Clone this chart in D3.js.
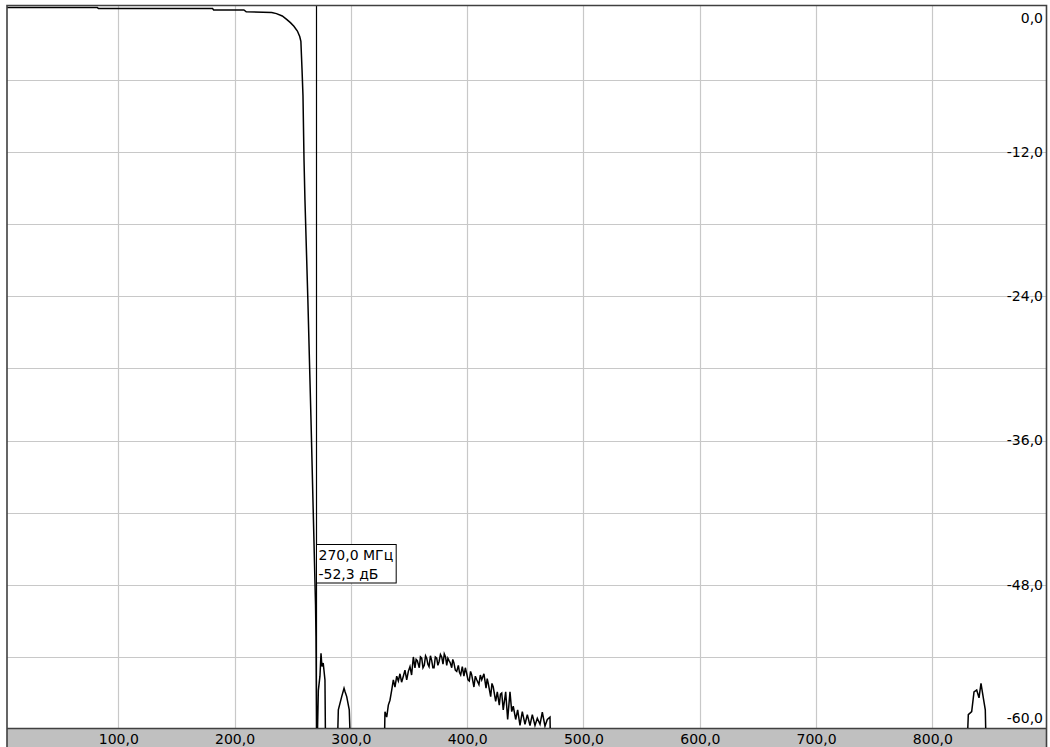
<!DOCTYPE html>
<html>
<head>
<meta charset="utf-8">
<script src="https://cdn.jsdelivr.net/npm/d3@7"></script>
<style>
  html, body { margin: 0; padding: 0; background: #ffffff; }
  svg { display: block; }
  text { font-family: "DejaVu Sans", sans-serif; font-size: 14px; fill: #000; }
</style>
</head>
<body>
<script>
// ---------- DATA ----------
// Frequency axis (MHz) and level axis (dB)
const xTicks = [100, 200, 300, 400, 500, 600, 700, 800];
const xTickLabels = ["100,0", "200,0", "300,0", "400,0", "500,0", "600,0", "700,0", "800,0"];
const yGrid = [0, -6, -12, -18, -24, -30, -36, -42, -48, -54, -60];
const yTicks = [0, -12, -24, -36, -48, -60];
const yTickLabels = ["0,0", "-12,0", "-24,0", "-36,0", "-48,0", "-60,0"];

// Measured trace: frequency (MHz)
const traceFreq = [
  4.3, 82, 83, 181, 182, 208, 210, 232, 236, 241, 245, 248, 251, 254, 256, 257, 257.5, 258, 258.8, 259.7, 260.5, 263, 265.7, 267.8, 269.6, 270, 270.4, 270.8,
  271.2, 272, 273.4, 274.3, 275.1, 276.2, 277.7, 278.6,
  287.2, 289.2, 292.1, 294.1, 295.0, 296.4, 298.6, 301.2,
  327.9, 329.3, 330.8, 332.2, 333.6, 335.1, 336.5, 337.9, 339.4, 340.8, 342.2, 343.6, 345.1, 346.5, 348.0, 349.4, 350.8, 352.2, 353.7, 355.1, 356.1, 357.1, 358.8,
  359.8, 360.9, 362.0, 363.1, 364.2, 365.2, 366.2, 367.2, 368.4, 369.5, 370.5, 371.5, 372.6, 373.8, 374.8, 375.8, 377.0, 378.1, 379.2, 380.3, 381.4, 382.4, 383.4, 384.4, 385.5, 386.7, 387.6, 388.6, 389.8, 391.0, 392.4, 393.4, 394.4,
  395.8, 397.2, 398.4, 399.6, 400.7, 401.8, 402.9, 403.9, 405.8, 407.0, 408.2, 410.1, 411.3, 412.5, 414.4, 416.2, 417.2, 418.1, 420.2, 421.3, 422.4, 424.5, 425.9, 427.6,
  428.6, 429.7, 431.0, 433.1, 434.8, 436.8, 438.3, 439.6, 441.7, 443.4, 445.4, 447.4, 449.7, 451.7, 454.0, 456.0, 458.3, 460.3,
  462.6, 464.6, 466.9, 468.9, 471.2, 472.6,
  828.0, 830.9, 833.8, 835.8, 838.1, 840.1, 841.8, 843.8, 845.5, 847.2, 897.7
];
// Measured trace: level (dB); values below -60 lie under the visible floor
const traceDb = [
  0, 0, -0.08, -0.08, -0.2, -0.2, -0.35, -0.4, -0.5, -0.7, -1.0, -1.25, -1.55, -1.95, -2.4, -2.8, -4.0, -5.2, -7.3, -12.7, -16.0, -24.3, -34.3, -42.6, -49.7, -52.3, -58, -66,
  -60.5, -56.8, -55.6, -53.7, -54.8, -54.5, -55.9, -66,
  -66, -58.4, -57.3, -56.6, -56.9, -57.3, -58.4, -66,
  -66, -58.55, -59.0, -58.0, -57.6, -56.75, -55.9, -56.5, -55.6, -56.0, -55.4, -56.1, -55.6, -55.1, -55.9, -55.2, -54.8, -55.5, -54.0, -54.9, -54.2, -54.3, -54.9,
  -54.0, -54.1, -54.9, -54.7, -53.9, -54.1, -54.6, -54.8, -53.9, -54.3, -54.9, -54.9, -54.0, -54.1, -54.7, -54.4, -53.8, -54.0, -54.6, -53.75, -54.0, -54.7, -54.1, -54.3, -54.5, -54.9, -54.2, -54.5, -55.1, -55.2, -54.7, -55.3, -55.5,
  -54.8, -55.6, -54.9, -55.4, -55.9, -56.0, -55.2, -55.5, -56.5, -55.6, -55.9, -56.3, -55.5, -55.9, -55.4, -56.6, -55.8, -56.2, -57.3, -56.2, -56.5, -57.7, -56.9, -58.0,
  -57.1, -57.0, -58.4, -56.9, -59.2, -56.9, -58.55, -58.1, -59.2, -58.4, -59.7, -58.55, -59.6, -58.8, -59.7, -58.8, -59.7, -59.1,
  -59.6, -58.6, -59.75, -59.2, -59.0, -66,
  -66, -58.8, -58.55, -56.9, -56.75, -57.4, -56.2, -57.4, -58.4, -66, -66
];

// Marker
const markerFreq = 270.0;
const markerLines = ["270,0 МГц", "-52,3 дБ"];

// ---------- LAYOUT ----------
const W = 1050, H = 747;
const plot = { left: 7, top: 6, right: 1046, bottom: 728 };
const FONT = '"DejaVu Sans", sans-serif';

const x = d3.scaleLinear().domain([4.3, 897.7]).range([plot.left, plot.right]);
const y = d3.scaleLinear().domain([0, -60]).range([7.6, 729.1]);

const svg = d3.select("body").append("svg").attr("width", W).attr("height", H);

svg.append("rect").attr("x", plot.left).attr("y", plot.top)
  .attr("width", plot.right - plot.left).attr("height", plot.bottom - plot.top)
  .attr("fill", "#ffffff");

svg.append("defs").append("clipPath").attr("id", "clip")
  .append("rect").attr("x", plot.left).attr("y", plot.top)
  .attr("width", plot.right - plot.left).attr("height", plot.bottom - plot.top);

// grid
const grid = svg.append("g").attr("stroke", "#c8c8c8").attr("stroke-width", 1.2);
grid.selectAll("line.v").data(xTicks).enter().append("line")
  .attr("x1", d => Math.round(x(d)) + 0.5).attr("x2", d => Math.round(x(d)) + 0.5)
  .attr("y1", plot.top).attr("y2", plot.bottom);
grid.selectAll("line.h").data(yGrid.filter(d => d !== 0 && d !== -60)).enter().append("line")
  .attr("y1", d => Math.round(y(d)) + 0.5).attr("y2", d => Math.round(y(d)) + 0.5)
  .attr("x1", plot.left).attr("x2", plot.right);

// bottom axis bar
svg.append("rect").attr("x", plot.left).attr("y", plot.bottom)
  .attr("width", plot.right - plot.left).attr("height", H - plot.bottom)
  .attr("fill", "#c0c0c0");
svg.append("line").attr("x1", plot.left).attr("x2", plot.right)
  .attr("y1", plot.bottom + 0.5).attr("y2", plot.bottom + 0.5)
  .attr("stroke", "#404040").attr("stroke-width", 1.5);

// x axis labels
const xAxis = d3.axisBottom(x).tickValues(xTicks)
  .tickFormat((d, i) => xTickLabels[i]).tickSize(0).tickPadding(0);
const xg = svg.append("g").attr("transform", `translate(0,${plot.bottom})`).call(xAxis);
xg.select(".domain").remove();
xg.selectAll("text").attr("dy", null).attr("y", 15.5)
  .style("font-family", FONT).style("font-size", "14px").attr("fill", "#000");

// y axis labels (inside, right side)
const yAxis = d3.axisLeft(y).tickValues(yTicks)
  .tickFormat((d, i) => yTickLabels[i]).tickSize(0).tickPadding(0);
const yg = svg.append("g").attr("transform", `translate(${plot.right - 3},0)`).call(yAxis);
yg.select(".domain").remove();
yg.selectAll(".tick text")
  .style("font-family", FONT).style("font-size", "14px").attr("fill", "#000")
  .attr("dy", d => d === 0 ? "1.05em" : (d === -60 ? "-0.45em" : "0.32em"));

// trace
const line = d3.line().x((d, i) => x(traceFreq[i])).y((d, i) => y(traceDb[i]));
svg.append("path").attr("clip-path", "url(#clip)")
  .datum(traceDb)
  .attr("d", line)
  .attr("fill", "none").attr("stroke", "#000").attr("stroke-width", 1.5)
  .attr("stroke-linejoin", "miter");

// marker line
const mx = Math.round(x(markerFreq)) + 0.5;
svg.append("line").attr("x1", mx).attr("x2", mx)
  .attr("y1", plot.top).attr("y2", plot.bottom)
  .attr("stroke", "#000").attr("stroke-width", 1.2);

// marker label box
const box = svg.append("g").attr("transform", `translate(${mx},544)`);
const tb = box.append("text").attr("x", 2).attr("y", 16);
markerLines.forEach((t, i) => tb.append("tspan").attr("x", 2).attr("dy", i === 0 ? 0 : 18.5).text(t));
const bb = tb.node().getBBox();
box.insert("rect", "text").attr("x", 0).attr("y", 0.5)
  .attr("width", bb.x + bb.width + 3).attr("height", 38.5)
  .attr("fill", "#ffffff").attr("stroke", "#000").attr("stroke-width", 1);

// frame
svg.append("path")
  .attr("d", `M${plot.left},${H} V${plot.top - 0.5} H${plot.right + 0.5} V${H}`)
  .attr("fill", "none").attr("stroke", "#404040").attr("stroke-width", 1.6);
</script>
</body>
</html>
